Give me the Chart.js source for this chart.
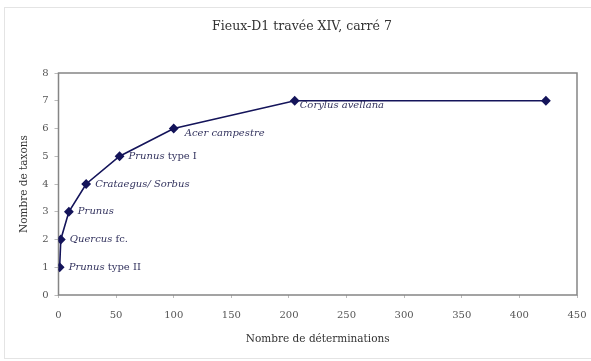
<!DOCTYPE html>
<html>
<head>
<meta charset="utf-8">
<script src="https://cdn.jsdelivr.net/npm/chart.js@4.4.0/dist/chart.umd.min.js"></script>
<style>
  html, body { margin: 0; padding: 0; background: #fff; }
  #wrap { width: 591px; height: 361px; }
</style>
</head>
<body>
<div id="wrap"><canvas id="curve" width="591" height="361"></canvas></div>
<script>
// Courbe d'accumulation : taxons vs déterminations, Fieux-D1

const determinations = [1, 2, 9, 24, 53, 100, 205, 423];
const taxons = [1, 2, 3, 4, 5, 6, 7, 7];
// name in italics, qualifier in roman
const taxonNames = ['Prunus', 'Quercus', 'Prunus', 'Crataegus/ Sorbus', 'Prunus', 'Acer campestre', 'Corylus avellana', ''];
const taxonNotes = [' type II', ' fc.', '', '', ' type I', '', '', ''];
const xTicks = [0, 50, 100, 150, 200, 250, 300, 350, 400, 450];
const yTicks = [0, 1, 2, 3, 4, 5, 6, 7, 8];

const chartTitle = 'Fieux-D1 travée XIV, carré 7';
const serif = '"DejaVu Serif", serif';
const navy = '#14145a';

// label nudges (dx, dy) from each marker
const labelShift = [[9, 0], [9, 0], [9, 0], [9, 0], [9, 0], [11, 5], [5, 5], [0, 0]];

const decorPlugin = {
    id: 'decor',
    beforeDraw(chart) {
        const ctx = chart.ctx;
        ctx.save();
        ctx.fillStyle = '#fff';
        ctx.fillRect(0, 0, chart.width, chart.height);
        // outer frame
        ctx.strokeStyle = '#e4e4e4';
        ctx.lineWidth = 1;
        ctx.strokeRect(4.5, 7.5, 640, 351);
        // title
        ctx.fillStyle = '#333';
        ctx.font = '12.5px ' + serif;
        ctx.textAlign = 'center';
        ctx.textBaseline = 'middle';
        ctx.fillText(chartTitle, 302, 27);
        ctx.restore();
    },
    beforeDatasetsDraw(chart) {
        const a = chart.chartArea;
        const ctx = chart.ctx;
        ctx.save();
        ctx.strokeStyle = '#858585';
        ctx.lineWidth = 1.5;
        ctx.strokeRect(a.left, a.top, a.right - a.left, a.bottom - a.top);
        ctx.restore();
    },
    afterDatasetsDraw(chart) {
        const ctx = chart.ctx;
        const meta = chart.getDatasetMeta(0);
        ctx.save();
        ctx.fillStyle = '#33335e';
        ctx.textBaseline = 'middle';
        ctx.textAlign = 'left';
        meta.data.forEach((pt, i) => {
            if (!taxonNames[i]) return;
            let x = pt.x + labelShift[i][0];
            const y = pt.y + labelShift[i][1];
            ctx.font = 'italic 10px ' + serif;
            ctx.fillText(taxonNames[i], x, y);
            x += ctx.measureText(taxonNames[i]).width;
            if (taxonNotes[i]) {
                ctx.font = '10px ' + serif;
                ctx.fillText(taxonNotes[i], x, y);
            }
        });
        ctx.restore();
    }
};

const points = determinations.map((d, i) => ({ x: d, y: taxons[i] }));

new Chart(document.getElementById('curve'), {
    type: 'scatter',
    data: {
        datasets: [{
            data: points,
            showLine: true,
            borderColor: navy,
            backgroundColor: navy,
            borderWidth: 1.6,
            pointStyle: 'rectRot',
            pointRadius: 3.8,
            pointHoverRadius: 3.8
        }]
    },
    options: {
        responsive: false,
        animation: false,
        layout: { padding: { left: 14, top: 73, right: 14, bottom: 8 } },
        plugins: {
            legend: { display: false },
            tooltip: { enabled: false }
        },
        scales: {
            x: {
                type: 'linear',
                min: 0,
                max: 450,
                afterBuildTicks: s => { s.ticks = xTicks.map(v => ({ value: v })); },
                afterFit: s => {
                    s.height = 58;
                    s.paddingLeft = 0;
                    s.paddingRight = 0;
                },
                grid: { drawOnChartArea: false, tickLength: 3, color: '#bbb' },
                border: { display: false },
                ticks: { color: '#555', padding: 11, maxRotation: 0, font: { family: serif, size: 10 } },
                title: {
                    display: true,
                    text: 'Nombre de déterminations',
                    color: '#333',
                    padding: { top: 0, bottom: 7 },
                    font: { family: serif, size: 10.5 }
                }
            },
            y: {
                type: 'linear',
                min: 0,
                max: 8,
                afterBuildTicks: s => { s.ticks = yTicks.map(v => ({ value: v })); },
                afterFit: s => {
                    s.width = 44.5;
                    s.paddingTop = 0;
                    s.paddingBottom = 0;
                },
                grid: { drawOnChartArea: false, tickLength: 4, color: '#bbb' },
                border: { display: false },
                ticks: { color: '#555', padding: 6, font: { family: serif, size: 10 } },
                title: {
                    display: true,
                    text: 'Nombre de taxons',
                    color: '#333',
                    padding: { top: 4, bottom: 0 },
                    font: { family: serif, size: 10.5 }
                }
            }
        }
    },
    plugins: [decorPlugin]
});
</script>
</body>
</html>
